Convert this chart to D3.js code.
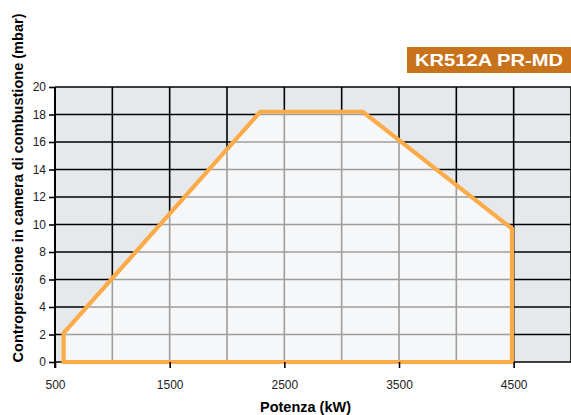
<!DOCTYPE html>
<html><head><meta charset="utf-8">
<script src="https://cdn.jsdelivr.net/npm/d3@7"></script>
<style>body{margin:0;background:#fff}svg{display:block;font-family:"Liberation Sans",Arial,sans-serif}</style>
</head><body><svg id="c" width="571" height="415"></svg>
<script>
const title = "KR512A PR-MD";
const xLabel = "Potenza (kW)";
const yLabel = "Contropressione in camera di combustione (mbar)";
const xTickLabels = [500, 1500, 2500, 3500, 4500];
const xGrid = [500,1000,1500,2000,2500,3000,3500,4000,4500,5000];
const yTicks = [0,2,4,6,8,10,12,14,16,18,20];
const envPower = [575, 575, 2290, 3185, 4485, 4485];
const envPressure = [0, 2.1, 18.2, 18.2, 9.7, 0];

const svg = d3.select("#c");
const m = {l:55, r:571, t:87, b:362};
const x = d3.scaleLinear().domain([500,5000]).range([m.l, m.r]);
const y = d3.scaleLinear().domain([0,20]).range([m.b, m.t]);

svg.append("rect").attr("x",m.l).attr("y",m.t).attr("width",m.r-m.l).attr("height",m.b-m.t).attr("fill","#e6e9ec");
const g = svg.append("g");
g.selectAll(".vx").data(xGrid).join("line").attr("x1",d=>x(d)).attr("x2",d=>x(d)).attr("y1",m.t).attr("y2",m.b).attr("stroke","#000").attr("stroke-width",1.6);
g.selectAll(".hy").data(yTicks).join("line").attr("x1",m.l).attr("x2",m.r).attr("y1",d=>y(d)).attr("y2",d=>y(d)).attr("stroke","#000").attr("stroke-width",1.6);

const pts = envPower.map((p,i)=>[x(p), y(envPressure[i])]);
svg.append("path").attr("d", d3.line()(pts)+"Z").attr("fill","#fff").attr("fill-opacity",0.62)
  .attr("stroke","#fbab47").attr("stroke-width",4.2).attr("stroke-linejoin","miter");

// axes
const ax = svg.append("g").attr("transform",`translate(0,${m.b})`).call(d3.axisBottom(x).tickValues(xTickLabels).tickSize(6).tickPadding(12).tickFormat(d3.format("d")));
ax.select(".domain").remove();
ax.selectAll("line").attr("stroke","#000").attr("stroke-width",1.6);
ax.selectAll("text").attr("font-size",12).attr("fill","#222").attr("font-family","Liberation Sans, Arial");
const ay = svg.append("g").attr("transform",`translate(${m.l},0)`).call(d3.axisLeft(y).tickValues(yTicks).tickSize(6).tickPadding(3).tickFormat(d3.format("d")));
ay.select(".domain").remove();
ay.selectAll("line").attr("stroke","#000").attr("stroke-width",1.6);
ay.selectAll("text").attr("font-size",12).attr("fill","#222").attr("font-family","Liberation Sans, Arial");
svg.append("line").attr("x1",m.l).attr("x2",m.l).attr("y1",m.t).attr("y2",m.b+6).attr("stroke","#000").attr("stroke-width",2);

svg.append("text").attr("x",305.5).attr("y",412).attr("text-anchor","middle").attr("font-weight","bold").attr("font-size",14)
  .attr("textLength",91).attr("lengthAdjust","spacingAndGlyphs").text(xLabel);
svg.append("text").attr("transform",`translate(23,188) rotate(-90)`).attr("text-anchor","middle").attr("font-weight","bold").attr("font-size",14)
  .attr("textLength",349).attr("lengthAdjust","spacingAndGlyphs").text(yLabel);

svg.append("rect").attr("x",407).attr("y",47).attr("width",164).attr("height",26).attr("fill","#c8731b");
svg.append("text").attr("x",489).attr("y",66).attr("text-anchor","middle").attr("fill","#fff").attr("font-weight","bold").attr("font-size",16.5)
  .attr("textLength",148).attr("lengthAdjust","spacingAndGlyphs").text(title);
</script></body></html>
